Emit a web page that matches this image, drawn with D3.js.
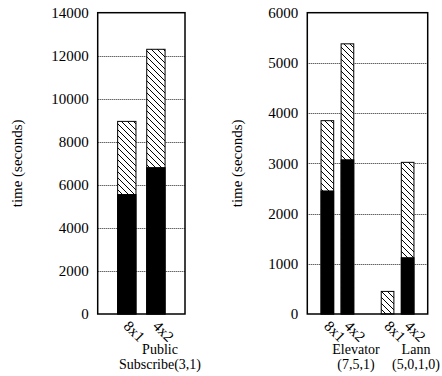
<!DOCTYPE html>
<html>
<head>
<meta charset="utf-8">
<script src="https://cdn.jsdelivr.net/npm/d3@7/dist/d3.min.js"></script>
<style>
  html, body { margin: 0; padding: 0; background: #fff; }
  svg { display: block; }
  svg text { font-family: "Liberation Serif", "Times New Roman", Times, serif; fill: #000; }
</style>
</head>
<body>
<svg id="chart" width="442" height="376" font-family="Liberation Serif, serif"></svg>
<script>
// Run time split into two stacked parts per configuration (seconds)
const leftConfigs = ["8x1", "4x2"];
const leftPos = [0, 1];
const leftSolid = [5550, 6800];
const leftTotal = [8950, 12300];
const leftTicks = [0, 2000, 4000, 6000, 8000, 10000, 12000, 14000];
const leftGroups = [["Public", "Subscribe(3,1)"]];

const rightConfigs = ["8x1", "4x2", "8x1", "4x2"];
const rightPos = [0, 1, 3, 4];
const rightSolid = [2450, 3070, 0, 1120];
const rightTotal = [3850, 5380, 450, 3020];
const rightTicks = [0, 1000, 2000, 3000, 4000, 5000, 6000];
const rightGroups = [["Elevator", "(7,5,1)"], ["Lann", "(5,0,1,0)"]];

const FONT = "'Liberation Serif', 'Times New Roman', serif";
const svg = d3.select("#chart");

// diagonal hatch used for the upper part of each bar
const defs = svg.append("defs");
const pat = defs.append("pattern")
  .attr("id", "hatch")
  .attr("patternUnits", "userSpaceOnUse")
  .attr("width", 6).attr("height", 6);
pat.append("rect").attr("width", 6).attr("height", 6).attr("fill", "#fff");
pat.append("path")
  .attr("d", "M0,0L6,6M-1,5L1,7M5,-1L7,1")
  .attr("stroke", "#000").attr("stroke-width", 1);

function panel(opt) {
  const x = d3.scaleLinear().domain(opt.xDomain).range([opt.left, opt.right]);
  const y = d3.scaleLinear().domain([0, opt.yMax]).range([opt.bottom, opt.top]);
  const g = svg.append("g");
  const barW = (x(1) - x(0)) * 0.63;

  // dotted grid
  g.selectAll("line.grid").data(opt.ticks.slice(1, -1)).join("line")
    .attr("class", "grid")
    .attr("x1", opt.left).attr("x2", opt.right)
    .attr("y1", d => Math.round(y(d)) + 0.5).attr("y2", d => Math.round(y(d)) + 0.5)
    .attr("stroke", "#222").attr("stroke-width", 1)
    .attr("stroke-dasharray", "1,1");

  // y axis labels
  const ax = d3.axisLeft(y).tickValues(opt.ticks).tickSize(0).tickPadding(9)
    .tickFormat(d3.format("d"));
  const axG = g.append("g").attr("transform", `translate(${opt.left},0)`).call(ax)
    .attr("font-family", null).attr("font-size", null);
  axG.select(".domain").remove();
  axG.selectAll("text").style("font-family", FONT)
    .style("font-size", "15px").attr("fill", "#000");

  const idx = d3.range(opt.pos.length);
  // hatched total
  g.selectAll("rect.total").data(idx).join("rect")
    .attr("x", i => x(opt.pos[i]) - barW / 2)
    .attr("y", i => y(opt.total[i]))
    .attr("width", barW)
    .attr("height", i => y(0) - y(opt.total[i]))
    .attr("fill", "url(#hatch)")
    .attr("stroke", "#000").attr("stroke-width", 1);
  // solid lower part
  g.selectAll("rect.solid").data(idx.filter(i => opt.solid[i] > 0)).join("rect")
    .attr("x", i => x(opt.pos[i]) - barW / 2)
    .attr("y", i => y(opt.solid[i]))
    .attr("width", barW)
    .attr("height", i => y(0) - y(opt.solid[i]))
    .attr("fill", "#000")
    .attr("stroke", "#000").attr("stroke-width", 1);

  // frame
  g.append("rect")
    .attr("x", opt.left).attr("y", opt.top)
    .attr("width", opt.right - opt.left).attr("height", opt.bottom - opt.top)
    .attr("fill", "none").attr("stroke", "#000").attr("stroke-width", 1.5);

  // rotated configuration labels
  g.selectAll("text.cfg").data(idx).join("text")
    .attr("transform", i => `translate(${x(opt.pos[i]) - 4},${opt.bottom + 13}) rotate(45)`)
    .style("font-family", FONT)
    .style("font-size", "15px")
    .text(i => opt.configs[i]);

  // group labels
  opt.groups.forEach((lines, k) => {
    const cx = opt.groupX[k];
    lines.forEach((t, j) => {
      g.append("text")
        .attr("x", cx).attr("y", 353.5 + j * 15)
        .attr("text-anchor", "middle")
        .style("font-family", FONT)
        .style("font-size", "14px")
        .text(t);
    });
  });

  // y title
  g.append("text")
    .attr("transform", `translate(${opt.titleX},${(opt.top + opt.bottom) / 2}) rotate(-90)`)
    .attr("text-anchor", "middle")
    .style("font-family", FONT)
    .style("font-size", "15px")
    .text("time (seconds)");
}

panel({
  xDomain: [-1, 2], left: 97.7, right: 185, top: 12.7, bottom: 314,
  yMax: 14000, ticks: leftTicks, pos: leftPos, solid: leftSolid, total: leftTotal,
  configs: leftConfigs, groups: leftGroups, groupX: [160], titleX: 22
});

panel({
  xDomain: [-1, 5], left: 307.3, right: 427.7, top: 12.7, bottom: 314,
  yMax: 6000, ticks: rightTicks, pos: rightPos, solid: rightSolid, total: rightTotal,
  configs: rightConfigs, groups: rightGroups, groupX: [356, 416], titleX: 242
});
</script>
</body>
</html>
